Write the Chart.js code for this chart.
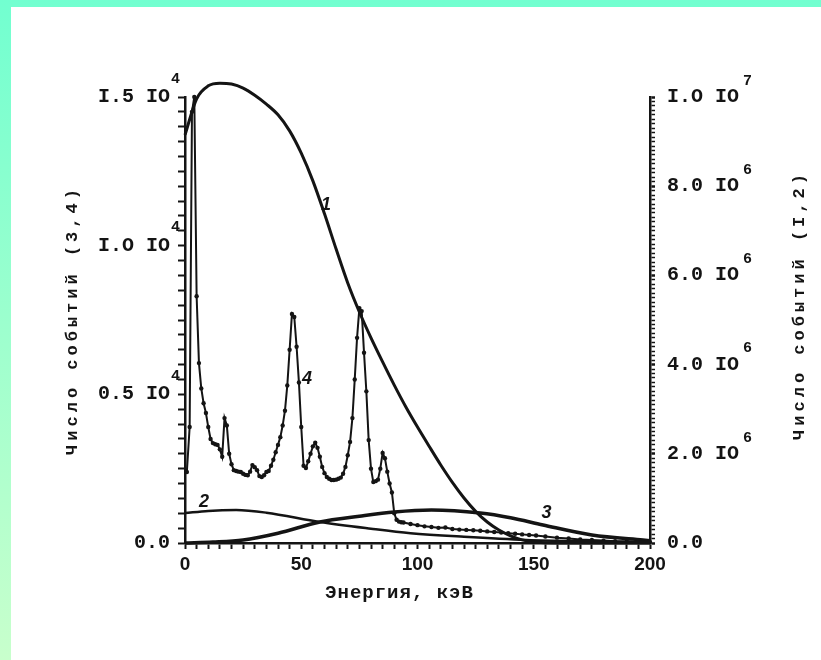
<!DOCTYPE html>
<html><head><meta charset="utf-8">
<style>
html,body{margin:0;padding:0;width:821px;height:660px;overflow:hidden;background:linear-gradient(to bottom,#72ffd0,#c8ffcc);}
#paper{position:absolute;left:11px;top:7px;right:0;bottom:0;background:#fff;}
#c{position:absolute;left:0;top:0;}
</style>
<script src="https://cdn.jsdelivr.net/npm/chart.js@4.4.1/dist/chart.umd.min.js"></script>
</head><body><div id="paper"></div><canvas id="c" width="821" height="660"></canvas>
<script>
// ---- Curve 1 (right axis, events) ----
const energy1 = [0, 5, 10, 15, 20, 25, 30, 35, 40, 45, 50, 55, 60, 65, 70, 75, 80, 85, 90, 95, 100, 105, 110, 115, 120, 125, 130, 135, 140, 145, 150, 160, 180, 200];
const counts1 = [9.15e6, 9.96e6, 1.025e7, 1.031e7, 1.029e7, 1.020e7, 1.004e7, 9.84e6, 9.60e6, 9.24e6, 8.74e6, 8.12e6, 7.38e6, 6.59e6, 5.83e6, 5.18e6, 4.60e6, 4.06e6, 3.54e6, 3.05e6, 2.60e6, 2.17e6, 1.75e6, 1.36e6, 1.01e6, 7.1e5, 4.7e5, 2.9e5, 1.6e5, 7.0e4, 2.5e4, 0, 0, 0];
// ---- Curve 2 (right axis) ----
const energy2 = [0, 10, 22, 35, 58, 80, 97, 120, 147, 175, 200];
const counts2 = [6.7e5, 7.2e5, 7.4e5, 6.8e5, 4.7e5, 3.2e5, 2.2e5, 1.4e5, 7.0e4, 4.0e4, 2.0e4];
// ---- Curve 3 (left axis) ----
const energy3 = [0, 12, 25, 40, 58, 75, 90, 106, 127, 140, 154, 175, 197, 200];
const counts3 = [0, 30, 100, 330, 706, 900, 1043, 1110, 1009, 850, 605, 269, 100, 80];
// ---- Curve 4 (left axis, measured spectrum) ----
const energy4 = [0.8, 2, 3, 4, 5, 6, 7, 8, 9, 10, 11, 12, 13, 14, 15, 16, 17, 18, 19, 20,
  21, 22, 23, 24, 25, 26, 27, 28, 29, 30, 31, 32, 33, 34, 35, 36, 37, 38, 39, 40,
  41, 42, 43, 44, 45, 46, 47, 48, 49, 50, 51, 52, 53, 54, 55, 56, 57, 58, 59, 60,
  61, 62, 63, 64, 65, 66, 67, 68, 69, 70, 71, 72, 73, 74, 75, 76, 77, 78, 79, 80,
  81, 82, 83, 84, 85, 86, 87, 88, 89, 90, 91, 92, 93,
  94, 97, 100, 103, 106, 109, 112, 115, 118, 121, 124, 127, 130, 133, 136, 139, 142, 145, 148, 151,
  155, 160, 165, 170, 175, 180, 185, 190, 195, 200];
const counts4 = [2390, 3900, 14500, 15000, 8300, 6050, 5200, 4700, 4370, 3900, 3500, 3360, 3320, 3300, 3150, 2900, 4200, 3950, 3000, 2650,
  2450, 2420, 2400, 2390, 2330, 2290, 2280, 2400, 2620, 2550, 2450, 2250, 2220, 2280, 2390, 2420, 2600, 2800, 3050, 3300,
  3560, 3950, 4450, 5300, 6500, 7700, 7600, 6600, 5400, 3900, 2600, 2520, 2750, 3000, 3250, 3370, 3200, 2900, 2560, 2350,
  2220, 2160, 2120, 2120, 2130, 2160, 2200, 2330, 2560, 2950, 3400, 4200, 5500, 6900, 7900, 7800, 6400, 5100, 3460, 2500,
  2050, 2080, 2130, 2500, 3030, 2850, 2400, 2000, 1700, 1000, 780, 720, 700,
  690, 640, 600, 560, 540, 510, 520, 470, 450, 440, 430, 410, 390, 370, 350, 330, 310, 290, 270, 250,
  220, 180, 150, 120, 100, 80, 60, 50, 40, 30];

// ---- Tick labels ----
const leftTickValues = [0, 5000, 10000, 15000];
const leftTickLabels = ['0.0', '0.5 IO', 'I.O IO', 'I.5 IO'];
const leftTickExps = ['', '4', '4', '4'];
const rightTickValues = [0, 2e6, 4e6, 6e6, 8e6, 1e7];
const rightTickLabels = ['0.0', '2.0 IO', '4.0 IO', '6.0 IO', '8.0 IO', 'I.O IO'];
const rightTickExps = ['', '6', '6', '6', '6', '7'];
const xTickValues = [0, 50, 100, 150, 200];
const xTickLabels = ['0', '50', '100', '150', '200'];

// ---- Texts ----
const xTitle = 'Энергия, кэВ';
const leftTitle = 'Число событий (3,4)';
const rightTitle = 'Число событий (I,2)';
const curveLabels = [
  {text: '1', energy: 60.6, value: 7.58e6, axis: 'yR'},
  {text: '2', energy: 8.2, value: 9.2e5, axis: 'yR'},
  {text: '3', energy: 155.5, value: 1000, axis: 'y'},
  {text: '4', energy: 52.5, value: 5500, axis: 'y'}
];

const toXY = (xs, ys) => xs.map((x, i) => ({x: x, y: ys[i]}));
const INK = '#141414';
const MONO = '"Liberation Mono", "DejaVu Sans Mono", monospace';

function labelFor(values, labels, v) {
  const i = values.findIndex(t => Math.abs(t - v) < 1e-3 * Math.max(1, Math.abs(t)));
  return i >= 0 ? labels[i] : '';
}

const extras = {
  id: 'extras',
  afterDraw(chart) {
    const ctx = chart.ctx;
    const {x, y, yR} = chart.scales;
    const area = chart.chartArea;
    ctx.save();
    ctx.fillStyle = INK;
    ctx.textBaseline = 'middle';
    ctx.textAlign = 'left';
    // exponents of the tick labels
    const lx = y.right - y.options.grid.tickLength - y.options.ticks.padding;
    ctx.font = 'bold 15px ' + MONO;
    leftTickValues.forEach((v, i) => {
      if (!leftTickExps[i]) return;
      ctx.fillText(leftTickExps[i], lx + 1, y.getPixelForValue(v) - 18);
    });
    const rx = yR.left + yR.options.grid.tickLength + yR.options.ticks.padding;
    ctx.font = 'bold 20px ' + MONO;
    const rwid = rightTickLabels.map(t => ctx.measureText(t).width);
    ctx.font = 'bold 15px ' + MONO;
    rightTickValues.forEach((v, i) => {
      if (!rightTickExps[i]) return;
      ctx.fillText(rightTickExps[i], rx + rwid[i] + 4, yR.getPixelForValue(v) - 16);
    });
    // curve labels
    ctx.font = 'italic bold 18px "Liberation Sans", sans-serif';
    ctx.textAlign = 'center';
    curveLabels.forEach(l => {
      const sc = chart.scales[l.axis];
      ctx.fillText(l.text, x.getPixelForValue(l.energy), sc.getPixelForValue(l.value));
    });
    // axis titles
    try { ctx.letterSpacing = '1px'; } catch (e) {}
    ctx.font = 'bold 19px ' + MONO;
    ctx.textAlign = 'center';
    ctx.fillText(xTitle, (area.left + area.right) / 2 - 18, area.bottom + 50);
    try { ctx.letterSpacing = '4px'; } catch (e) {}
    ctx.font = 'bold 17px ' + MONO;
    ctx.save();
    ctx.translate(73, (area.top + area.bottom) / 2);
    ctx.rotate(-Math.PI / 2);
    ctx.fillText(leftTitle, 0, 0);
    ctx.restore();
    ctx.save();
    ctx.translate(800, (area.top + area.bottom) / 2 - 15);
    ctx.rotate(-Math.PI / 2);
    ctx.fillText(rightTitle, 0, 0);
    ctx.restore();
    ctx.restore();
  }
};

const smooth = {tension: 0.4, cubicInterpolationMode: 'monotone', pointRadius: 0, borderColor: INK, fill: false, clip: false};

new Chart(document.getElementById('c'), {
  type: 'line',
  data: {
    datasets: [
      Object.assign({label: '1', data: toXY(energy1, counts1), yAxisID: 'yR', borderWidth: 3}, smooth),
      Object.assign({label: '2', data: toXY(energy2, counts2), yAxisID: 'yR', borderWidth: 2.5}, smooth),
      Object.assign({label: '3', data: toXY(energy3, counts3), yAxisID: 'y', borderWidth: 3.5}, smooth),
      {label: '4', data: toXY(energy4, counts4), yAxisID: 'y', borderColor: INK, borderWidth: 2, tension: 0,
       pointRadius: 2.2, pointBackgroundColor: INK, pointBorderWidth: 0, fill: false, clip: false}
    ]
  },
  options: {
    responsive: false,
    animation: false,
    layout: {padding: {top: 97, left: 0, right: 0, bottom: 0}},
    plugins: {legend: {display: false}, tooltip: {enabled: false}},
    scales: {
      x: {
        type: 'linear', min: 0, max: 200, position: 'bottom',
        ticks: {stepSize: 5, autoSkip: false, maxRotation: 0, maxTicksLimit: 1000, color: INK, padding: 4,
          font: {family: '"Liberation Sans Narrow", "Liberation Sans", sans-serif', weight: 'bold', size: 19},
          callback: v => labelFor(xTickValues, xTickLabels, v)},
        grid: {drawOnChartArea: false, drawTicks: true, tickLength: 6, tickWidth: 2, tickColor: INK},
        border: {display: true, color: INK, width: 2.5},
        afterFit: s => { s.height = 117; }
      },
      y: {
        type: 'linear', min: 0, max: 15000, position: 'left',
        ticks: {stepSize: 500, autoSkip: false, maxTicksLimit: 1000, color: INK, padding: 8,
          font: {family: MONO, weight: 'bold', size: 20},
          callback: v => labelFor(leftTickValues, leftTickLabels, v)},
        grid: {drawOnChartArea: false, drawTicks: true, tickLength: 7, tickWidth: 2, tickColor: INK},
        border: {display: true, color: INK, width: 2.5},
        afterFit: s => { s.width = 185; }
      },
      yR: {
        type: 'linear', min: 0, max: 1e7, position: 'right',
        ticks: {stepSize: 1e5, autoSkip: false, maxTicksLimit: 1000, color: INK, padding: 12,
          font: {family: MONO, weight: 'bold', size: 20},
          callback: v => labelFor(rightTickValues, rightTickLabels, v)},
        grid: {drawOnChartArea: false, drawTicks: true, tickLength: 5, tickColor: INK,
          tickWidth: c => (Math.round(c.tick.value / 1e5) % 20 === 0 ? 2.5 : 1.5)},
        border: {display: true, color: INK, width: 2.5},
        afterFit: s => { s.width = 171; }
      }
    }
  },
  plugins: [extras]
});
</script></body></html>
